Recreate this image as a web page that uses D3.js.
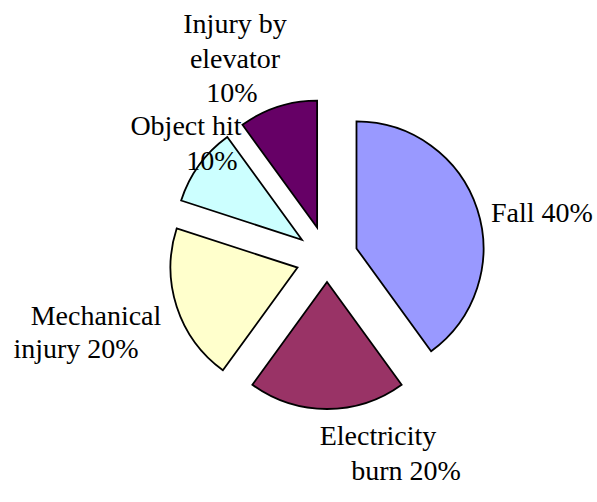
<!DOCTYPE html>
<html>
<head>
<meta charset="utf-8">
<script src="https://cdn.jsdelivr.net/npm/d3@7"></script>
</head>
<body style="margin:0;background:#fff">
<svg id="chart" width="597" height="502"></svg>
<script>
// Data
const categories = ["Fall", "Electricity burn", "Mechanical injury", "Object hit", "Injury by elevator"];
const values = [40, 20, 20, 10, 10];
const labelLines = [
  ["Fall 40%"],
  ["Electricity", "burn 20%"],
  ["Mechanical", "injury 20%"],
  ["Object hit", "10%"],
  ["Injury by", "elevator", "10%"]
];

// Styles / layout
const colors = ["#9999FF", "#993366", "#FFFFCC", "#CCFFFF", "#660066"];
const explode = [31, 24, 31, 31, 32];
const cx = 327, cy = 258, radius = 127;
// label line anchor (x center, baseline y) per line
const labelPos = [
  [[542, 222]],
  [[378, 445], [406, 480]],
  [[96, 325], [76, 358]],
  [[186, 135], [212, 170]],
  [[235, 33], [235, 68], [232, 102]]
];

const svg = d3.select("#chart");
const pie = d3.pie().sort(null).value(d => d).startAngle(0).endAngle(2 * Math.PI);
const arcs = pie(values);
const arc = d3.arc().innerRadius(0).outerRadius(radius);

const g = svg.append("g").attr("transform", `translate(${cx},${cy})`);
g.selectAll("path.slice")
  .data(arcs)
  .join("path")
  .attr("class", "slice")
  .attr("d", arc)
  .attr("fill", (d, i) => colors[i])
  .attr("stroke", "#000")
  .attr("stroke-width", 1.8)
  .attr("stroke-linejoin", "miter")
  .attr("transform", (d, i) => {
    const a = (d.startAngle + d.endAngle) / 2;
    return `translate(${Math.sin(a) * explode[i]},${-Math.cos(a) * explode[i]})`;
  });

labelLines.forEach((lines, i) => {
  lines.forEach((t, j) => {
    const el = svg.append("text")
      .style("font-family", '"Liberation Serif"')
      .style("font-size", "28px")
      .attr("y", labelPos[i][j][1])
      .text(t);
    const w = el.node().getComputedTextLength();
    el.attr("x", labelPos[i][j][0] - w / 2);
  });
});
</script>
</body>
</html>
